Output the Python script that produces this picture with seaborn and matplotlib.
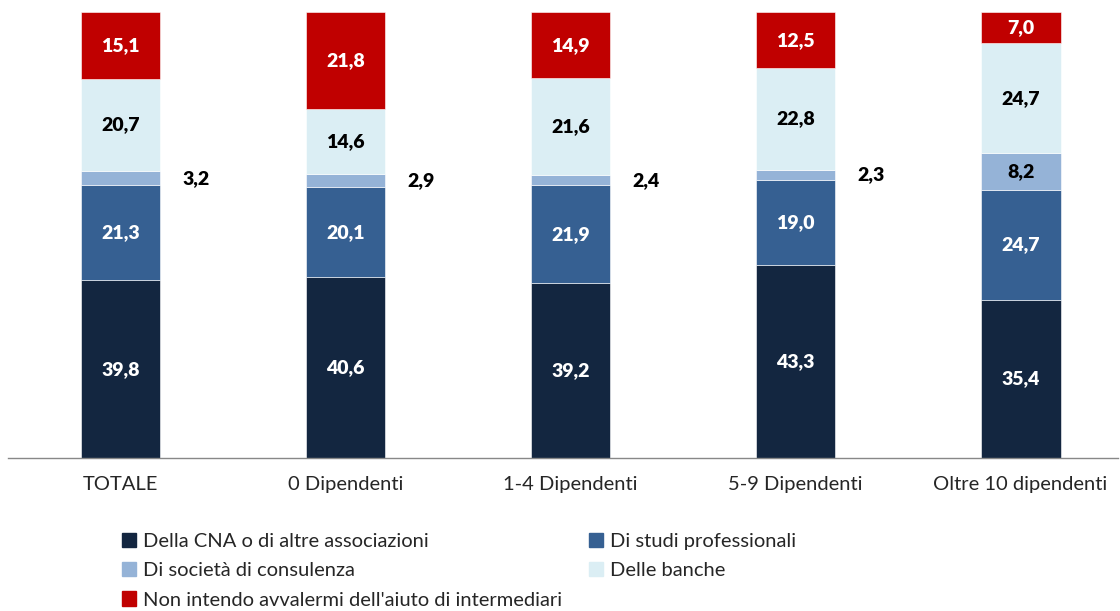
import matplotlib.pyplot as plt
import matplotlib.patches as mpatches
import seaborn as sns
import pandas as pd
import numpy as np

categories = ["TOTALE", "0 Dipendenti", "1-4 Dipendenti", "5-9 Dipendenti", "Oltre 10 dipendenti"]
series = ["Della CNA o di altre associazioni", "Di studi professionali",
          "Di società di consulenza", "Delle banche",
          "Non intendo avvalermi dell'aiuto di intermediari"]
cna = [39.8, 40.6, 39.2, 43.3, 35.4]
studi = [21.3, 20.1, 21.9, 19.0, 24.7]
societa = [3.2, 2.9, 2.4, 2.3, 8.2]
banche = [20.7, 14.6, 21.6, 22.8, 24.7]
nessuno = [15.1, 21.8, 14.9, 12.5, 7.0]

colors = ["#132640", "#366092", "#95b3d7", "#dbeef4", "#c00000"]
text_colors = ["white", "white", "black", "black", "white"]

sns.set_style("white")
plt.rcParams["font.family"] = ["Lato", "DejaVu Sans"]

fig = plt.figure(figsize=(11.2, 6.11), dpi=100)
ax = fig.add_axes([8 / 1120, 153 / 611, 1110 / 1120, 446 / 611])

values = [cna, studi, societa, banche, nessuno]
bottom = np.zeros(len(categories))
for name, vals, col, tcol in zip(series, values, colors, text_colors):
    df = pd.DataFrame({"cat": categories, "val": vals})
    sns.barplot(data=df, x="cat", y="val", color=col, bottom=bottom, width=0.355,
                saturation=1, ax=ax, order=categories, edgecolor="white", linewidth=0.4)
    for i, v in enumerate(vals):
        y = bottom[i] + v / 2
        label = f"{v:.1f}".replace(".", ",")
        if v < 5:
            # thin segments get their label beside the bar
            ax.text(i + 0.335, y, label, ha="center", va="center",
                    fontsize=14, fontweight="heavy", color="black")
        else:
            ax.text(i, y, label, ha="center", va="center",
                    fontsize=14, fontweight="heavy", color=tcol)
    bottom = bottom + np.array(vals)

ax.set_xlim(-0.5, 4.433)
ax.set_ylim(0, 100)
ax.set_xlabel("")
ax.set_ylabel("")
ax.set_yticks([])
ax.tick_params(axis="x", length=0, labelsize=14.5, pad=13)
for s in ["top", "left", "right"]:
    ax.spines[s].set_visible(False)
ax.spines["bottom"].set_color("#888888")
ax.spines["bottom"].set_linewidth(1)

handles = [mpatches.Patch(color=c, label=s) for s, c in zip(series, colors)]
order = [0, 2, 4, 1, 3]
fig.legend([handles[k] for k in order], [series[k] for k in order], ncol=2,
           loc="upper left", bbox_to_anchor=(114 / 1120, 1 - 525 / 611),
           frameon=False, fontsize=14.5, handlelength=0.7, handleheight=0.7,
           handletextpad=0.35, columnspacing=1.3, labelspacing=0.6, borderaxespad=0)

fig.savefig("out.png", dpi=100)
